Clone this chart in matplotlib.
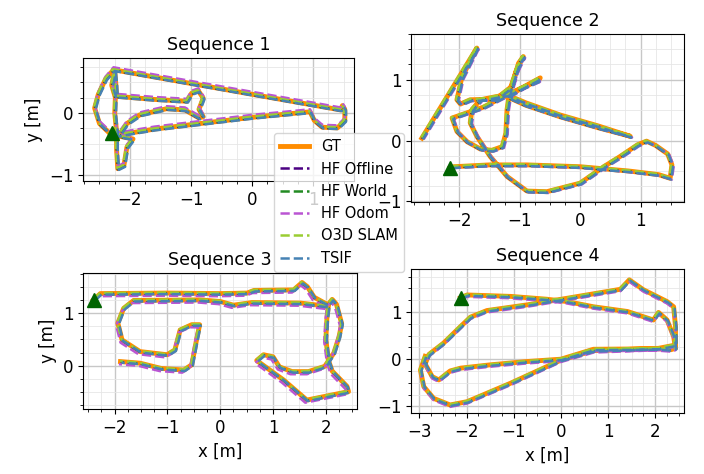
import matplotlib.pyplot as plt
from matplotlib.ticker import MultipleLocator

# 1. Trajectory data (x, y in metres)
seq1_x = [-2.30, -2.22, -1.60, -0.85, 0.00, 0.95, 1.02, 1.15, 1.40, 1.52, 1.52, 1.48, 1.45,
          -2.27, -2.40, -2.52, -2.58, -2.50, -2.32, -2.15, -1.95, -2.05, -2.10, -2.20, -2.22,
          -2.22, -2.25, -2.24, -2.30, -2.25, -2.23, -2.22, -1.60, -1.07, -0.99, -0.88, -0.80,
          -0.87, -0.80, -0.87, -1.10, -1.40, -1.84, -2.05, -2.20]
seq1_y = [-0.33, -0.36, -0.26, -0.17, -0.07, 0.02, -0.12, -0.23, -0.24, -0.12, 0.06, 0.12, 0.05,
          0.70, 0.55, 0.30, 0.08, -0.17, -0.34, -0.38, -0.42, -0.55, -0.85, -0.90, -0.60,
          -0.30, 0.00, 0.25, 0.45, 0.68, 0.45, 0.27, 0.22, 0.19, 0.32, 0.36, 0.24,
          0.06, -0.06, -0.08, 0.05, 0.07, -0.03, -0.17, -0.38]

seq2_x = [-2.15, -2.09, -1.50, -0.88, 0.00, 0.80, 1.30, 1.49, 1.52, 1.45, 1.25, 1.10, 0.95,
          0.65, 0.39, 0.00, -0.55, -0.88, -1.21, -1.49, -1.71, -1.82, -1.79, -1.65, -1.40,
          -1.21, -0.90, -0.33, 0.30, 0.83, 0.30, -0.33, -0.90, -1.21, -0.90, -0.66, -0.70,
          -1.00, -1.21, -1.60, -2.12, -2.04, -1.87, -1.65, -1.46, -1.29, -1.23, -1.21, -1.16,
          -1.06, -0.94, -1.02, -1.13, -1.40, -1.82, -1.98, -2.04, -1.96, -1.71, -2.62]
seq2_y = [-0.45, -0.43, -0.40, -0.40, -0.43, -0.50, -0.56, -0.62, -0.40, -0.22, -0.08, -0.01, -0.07,
          -0.27, -0.43, -0.70, -0.84, -0.83, -0.59, -0.26, 0.07, 0.29, 0.51, 0.67, 0.72,
          0.75, 0.62, 0.42, 0.24, 0.07, 0.21, 0.39, 0.58, 0.72, 0.90, 1.03, 0.98,
          0.85, 0.75, 0.55, 0.37, 0.15, -0.02, -0.14, -0.16, -0.10, 0.12, 0.51, 0.84,
          1.14, 1.38, 1.27, 0.89, 0.68, 0.67, 0.60, 0.67, 1.03, 1.52, 0.04]

seq3_x = [-2.40, -2.27, -1.00, 0.00, 0.51, 0.64, 1.39, 1.55, 1.65, 1.78, 2.05, 2.02, 2.00,
          2.05, 2.12, 2.40, 2.43, 1.64, 1.20, 0.69, 0.82, 1.00, 1.12, 1.36, 1.67, 1.98,
          2.15, 2.25, 2.30, 2.20, 2.12, 2.02, 1.52, 0.60, 0.25, 0.00, -0.38, -1.64, -1.83,
          -1.94, -1.86, -1.52, -1.01, -0.86, -0.76, -0.54, -0.39, -0.45, -0.54, -0.69, -1.12,
          -1.52, -1.89]
seq3_y = [1.25, 1.37, 1.38, 1.37, 1.38, 1.43, 1.44, 1.58, 1.50, 1.30, 1.15, 0.90, 0.50,
          0.10, -0.10, -0.39, -0.49, -0.65, -0.27, 0.10, 0.21, 0.17, -0.02, -0.11, -0.11, -0.01,
          0.24, 0.55, 0.80, 1.17, 1.26, 1.13, 1.19, 1.20, 1.15, 1.22, 1.25, 1.24, 1.09,
          0.81, 0.49, 0.27, 0.21, 0.30, 0.68, 0.78, 0.78, 0.49, 0.02, -0.08, -0.05,
          0.05, 0.08]

seq4_x = [-2.13, -1.99, -1.07, -0.30, 0.13, 0.69, 1.41, 1.96, 2.07, 2.25, 2.39, 2.43, 2.33,
          2.07, 0.69, 0.00, -0.72, -1.50, -2.13, -2.35, -2.59, -2.73, -2.88, -2.80, -2.49,
          -2.13, -1.92, -1.57, -0.72, 0.13, 1.26, 1.45, 1.75, 2.25, 2.39, 2.43, 2.43, 2.07,
          0.69, 0.00, -1.07, -1.99, -2.35, -2.70, -2.91, -2.98, -2.88]
seq4_y = [1.30, 1.36, 1.33, 1.27, 1.22, 1.11, 1.01, 0.83, 0.99, 0.83, 0.48, 0.23, 0.20,
          0.22, 0.21, 0.00, -0.05, -0.12, -0.19, -0.25, -0.44, -0.37, -0.10, 0.10, 0.34,
          0.69, 0.89, 1.03, 1.15, 1.29, 1.48, 1.68, 1.47, 1.22, 1.11, 0.69, 0.30, 0.23,
          0.18, -0.02, -0.51, -0.90, -0.97, -0.83, -0.58, -0.23, 0.06]

sequences = [(seq1_x, seq1_y), (seq2_x, seq2_y), (seq3_x, seq3_y), (seq4_x, seq4_y)]
titles = ['Sequence 1', 'Sequence 2', 'Sequence 3', 'Sequence 4']

# Estimation methods and their (small) drift relative to GT per sequence
methods = ['HF Offline', 'HF World', 'HF Odom', 'O3D SLAM', 'TSIF']
method_colors = ['indigo', 'forestgreen', 'mediumorchid', 'yellowgreen', 'steelblue']
offset_x = {'HF Offline': [0.00, 0.00, 0.00, 0.00],
            'HF World': [0.01, 0.01, 0.01, 0.01],
            'HF Odom': [0.00, 0.03, -0.03, 0.00],
            'O3D SLAM': [-0.01, -0.01, -0.01, -0.01],
            'TSIF': [0.02, 0.02, 0.02, 0.02]}
offset_y = {'HF Offline': [-0.01, -0.01, -0.01, -0.01],
            'HF World': [-0.01, -0.01, -0.01, -0.01],
            'HF Odom': [0.04, -0.02, -0.05, -0.04],
            'O3D SLAM': [0.01, 0.01, 0.01, 0.01],
            'TSIF': [-0.02, -0.02, -0.02, -0.02]}

# Axis positions (figure fraction) and limits for each panel
positions = [[0.1179, 0.6181, 0.3849, 0.2595],
             [0.5838, 0.5738, 0.3878, 0.3544],
             [0.1179, 0.1371, 0.3892, 0.2869],
             [0.5838, 0.1287, 0.3878, 0.3038]]
xlims = [(-2.77, 1.67), (-2.80, 1.72), (-2.60, 2.59), (-3.18, 2.61)]
ylims = [(-1.10, 0.89), (-1.01, 1.75), (-0.82, 1.76), (-1.14, 1.91)]

# 2. Plot
plt.rcParams['font.size'] = 12
fig = plt.figure(figsize=(7.04, 4.74), dpi=100)

axes = []
for i, (xs, ys) in enumerate(sequences):
    ax = fig.add_axes(positions[i])
    ax.plot(xs, ys, color='darkorange', linewidth=3.5, label='GT')
    for m, c in zip(methods, method_colors):
        mx = [v + offset_x[m][i] for v in xs]
        my = [v + offset_y[m][i] for v in ys]
        ax.plot(mx, my, '--', color=c, linewidth=1.8, label=m)
    ax.plot(xs[0], ys[0], '^', color='darkgreen', markersize=10, zorder=5)

    ax.set_title(titles[i], fontsize=12.6)
    ax.set_xlim(xlims[i])
    ax.set_ylim(ylims[i])
    ax.xaxis.set_major_locator(MultipleLocator(1))
    ax.yaxis.set_major_locator(MultipleLocator(1))
    ax.xaxis.set_minor_locator(MultipleLocator(0.25))
    ax.yaxis.set_minor_locator(MultipleLocator(0.25))
    ax.grid(which='major', color='0.78', linewidth=1.0)
    ax.grid(which='minor', color='0.9', linewidth=0.6)
    ax.set_axisbelow(True)
    axes.append(ax)

axes[0].set_ylabel('y [m]')
axes[2].set_ylabel('y [m]')
axes[2].set_xlabel('x [m]')
axes[3].set_xlabel('x [m]')

axes[0].legend(loc='center', bbox_to_anchor=(0.4815, 0.5728),
               bbox_transform=fig.transFigure, fontsize=10.5)

plt.savefig('out.png', dpi=100)
